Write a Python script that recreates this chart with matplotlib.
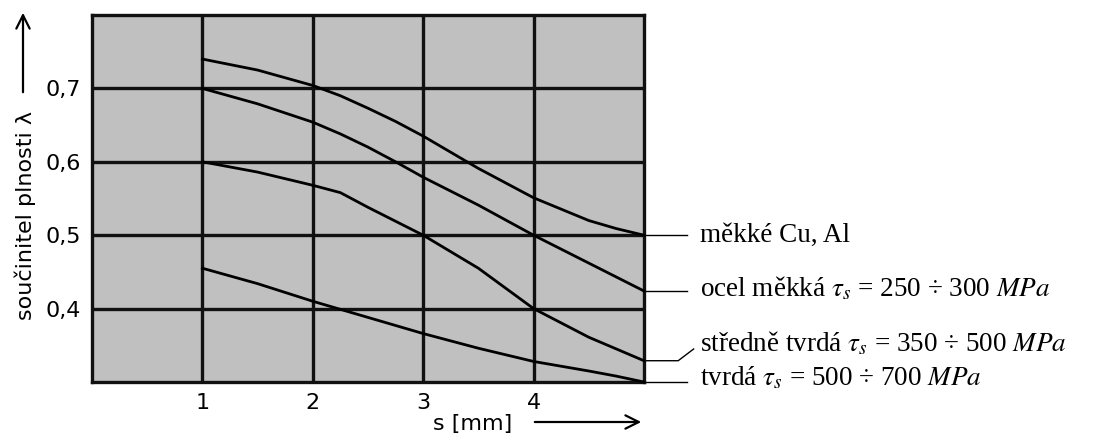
import matplotlib
matplotlib.use("Agg")
import matplotlib.pyplot as plt

# thickness s [mm] and fill factor lambda
s_mm = [1, 1.5, 2, 2.25, 2.5, 2.75, 3, 3.5, 4, 4.5, 4.75, 5]
lam_cu_al = [0.740, 0.725, 0.704, 0.690, 0.673, 0.655, 0.635, 0.591, 0.551, 0.520, 0.509, 0.500]
lam_ocel_mekka = [0.700, 0.679, 0.654, 0.638, 0.620, 0.600, 0.579, 0.541, 0.500, 0.462, 0.443, 0.424]
lam_stredne = [0.600, 0.586, 0.568, 0.558, 0.538, 0.519, 0.500, 0.455, 0.400, 0.361, 0.345, 0.329]
lam_tvrda = [0.455, 0.434, 0.410, 0.399, 0.388, 0.377, 0.366, 0.346, 0.328, 0.315, 0.308, 0.300]

x_ticks = [1, 2, 3, 4]
y_ticks = [0.4, 0.5, 0.6, 0.7]
y_tick_labels = ["0,4", "0,5", "0,6", "0,7"]

labels = [
    r"měkké Cu, Al",
    r"ocel měkká $\tau_s$ = 250 ÷ 300 $MPa$",
    r"středně tvrdá $\tau_s$ = 350 ÷ 500 $MPa$",
    r"tvrdá $\tau_s$ = 500 ÷ 700 $MPa$",
]
label_y = [0.50, 0.427, 0.352, 0.306]

plt.rcParams["mathtext.fontset"] = "stix"

fig = plt.figure(figsize=(10.98, 4.34), dpi=100)
ax = fig.add_axes([0.0838, 0.1198, 0.5027, 0.8456])
ax.set_facecolor("#c0c0c0")
ax.set_xlim(0, 5)
ax.set_ylim(0.3, 0.8)

for v in x_ticks:
    ax.axvline(v, color="#111111", lw=2.4, zorder=1)
for v in y_ticks:
    ax.axhline(v, color="#111111", lw=2.4, zorder=1)
for sp in ax.spines.values():
    sp.set_linewidth(2.4)
    sp.set_color("#111111")

series = [lam_cu_al, lam_ocel_mekka, lam_stredne, lam_tvrda]
for ys in series:
    ax.plot(s_mm, ys, color="black", lw=2.0, zorder=3, clip_on=False)

ax.set_xticks(x_ticks)
ax.set_xticklabels([str(v) for v in x_ticks])
ax.set_yticks(y_ticks)
ax.set_yticklabels(y_tick_labels)
ax.tick_params(length=0, labelsize=16, pad=8)

# leader lines and labels on the right
ends = [ys[-1] for ys in series]
for i, (ye, ly, txt) in enumerate(zip(ends, label_y, labels)):
    if i == 2:
        ax.plot([5, 5.31, 5.45], [ye, ye, 0.345], color="black", lw=1.0, clip_on=False)
    else:
        ax.plot([5, 5.39], [ye, ye], color="black", lw=1.0, clip_on=False)
    ax.text(5.51, ly, txt, fontsize=19.5, family="Liberation Serif",
            va="center", ha="left", clip_on=False)

# axis labels with arrows
fig.text(25 / 1098, 1 - 215 / 434, "součinitel plnosti λ", rotation=90,
         fontsize=16, va="center", ha="center")
fig.text(473 / 1098, 1 - 424 / 434, "s [mm]", fontsize=16, va="center", ha="center")
ax.annotate("", xy=(23 / 1098, 1 - 10 / 434), xytext=(23 / 1098, 1 - 95 / 434),
            xycoords="figure fraction", textcoords="figure fraction",
            arrowprops=dict(arrowstyle="->", lw=1.6, color="black", mutation_scale=24))
ax.annotate("", xy=(644 / 1098, 1 - 422 / 434), xytext=(532 / 1098, 1 - 422 / 434),
            xycoords="figure fraction", textcoords="figure fraction",
            arrowprops=dict(arrowstyle="->", lw=1.6, color="black", mutation_scale=24))

plt.savefig("out.png", dpi=100)
plt.close()
